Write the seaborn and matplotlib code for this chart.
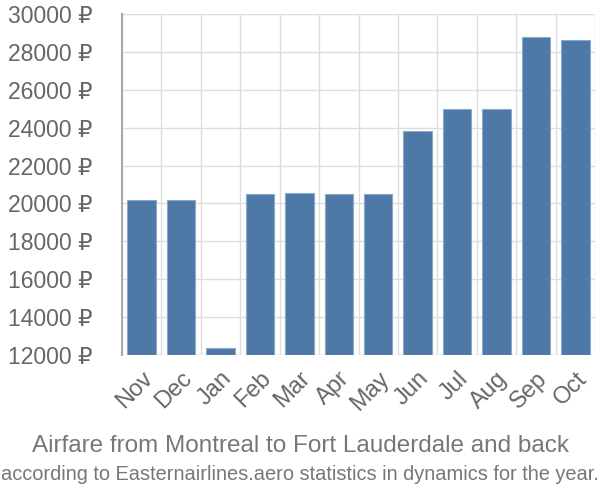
import matplotlib
matplotlib.use("Agg")
import matplotlib.pyplot as plt
import seaborn as sns
import pandas as pd

# monthly airfare values
months = ["Nov", "Dec", "Jan", "Feb", "Mar", "Apr", "May", "Jun", "Jul", "Aug", "Sep", "Oct"]
prices = [20200, 20200, 12350, 20500, 20550, 20500, 20520, 23830, 24980, 24980, 28770, 28620]
y_ticks = [12000, 14000, 16000, 18000, 20000, 22000, 24000, 26000, 28000, 30000]

title_line = "Airfare from Montreal to Fort Lauderdale and back"
subtitle_line = "according to Easternairlines.aero statistics in dynamics for the year."

df = pd.DataFrame({"month": months, "price": prices})

sns.set_style("whitegrid")
plt.rcParams["font.family"] = ["Liberation Sans", "DejaVu Sans"]

fig = plt.figure(figsize=(6, 5), dpi=100)
ax = fig.add_axes([0.203, 0.29, 0.789, 0.682])

sns.barplot(data=df, x="month", y="price", color="#4e79a7", width=0.72,
            edgecolor="#8aa8c8", linewidth=0.8, saturation=1, ax=ax)

ax.set_ylim(12000, 30000)
ax.set_xlim(-0.5, 11.5)
ax.set_yticks(y_ticks)
ax.set_yticklabels([f"{v} ₽" for v in y_ticks])

# gridlines between the bars rather than through them
ax.set_xticks([i + 0.5 for i in range(-1, 12)], minor=True)
ax.grid(False)
ax.grid(True, which="minor", axis="x", color="#dddddd", linewidth=1)
ax.grid(True, which="major", axis="y", color="#dddddd", linewidth=1)
ax.set_axisbelow(True)

ax.tick_params(axis="x", which="major", length=0, labelsize=17, labelcolor="#666666", pad=9)
ax.tick_params(axis="x", which="minor", length=20, color="#dddddd", width=1)
ax.tick_params(axis="y", length=20, color="#dddddd", width=1, labelsize=16.5, labelcolor="#666666", pad=1)
for lbl in ax.get_xticklabels():
    lbl.set_rotation(45)
    lbl.set_ha("right")
    lbl.set_rotation_mode("anchor")

for side in ["top", "right", "bottom"]:
    ax.spines[side].set_visible(False)
ax.spines["left"].set_color("#aaaaaa")
ax.spines["left"].set_linewidth(1.5)

ax.set_xlabel("")
ax.set_ylabel("")

fig.text(0.5, 0.108, title_line, ha="center", va="center", fontsize=17.5, color="#777777")
fig.text(0.5, 0.05, subtitle_line, ha="center", va="center", fontsize=14.4, color="#777777")

fig.savefig("out.png", dpi=100)
